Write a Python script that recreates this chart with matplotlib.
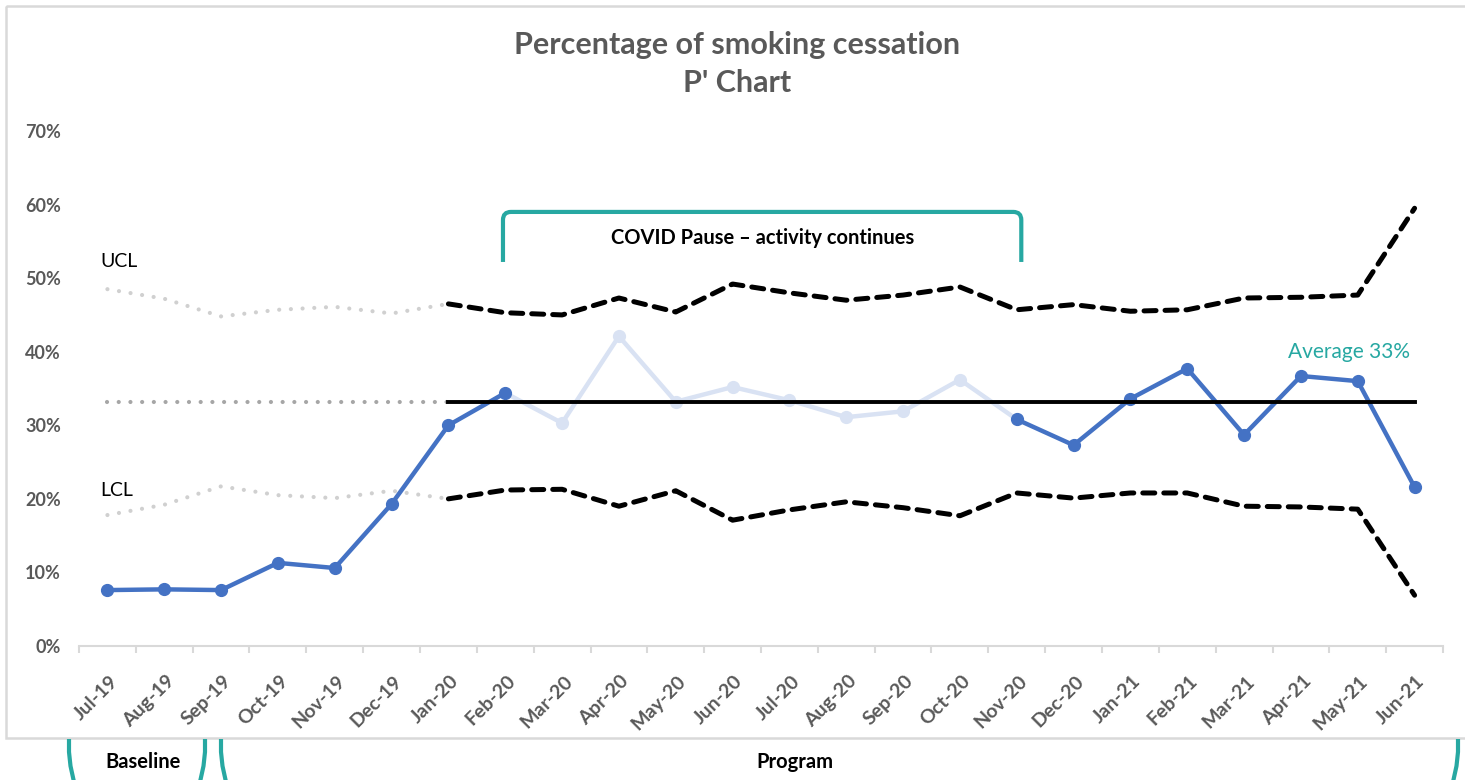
import numpy as np
import matplotlib.pyplot as plt
import matplotlib.transforms as mtransforms
from matplotlib.path import Path
from matplotlib.patches import PathPatch, Rectangle
from matplotlib.lines import Line2D

plt.rcParams['font.family'] = ['Lato', 'DejaVu Sans']

# monthly data (percent)
months = ['Jul-19', 'Aug-19', 'Sep-19', 'Oct-19', 'Nov-19', 'Dec-19',
          'Jan-20', 'Feb-20', 'Mar-20', 'Apr-20', 'May-20', 'Jun-20',
          'Jul-20', 'Aug-20', 'Sep-20', 'Oct-20', 'Nov-20', 'Dec-20',
          'Jan-21', 'Feb-21', 'Mar-21', 'Apr-21', 'May-21', 'Jun-21']
cessation = [7.6, 7.7, 7.6, 11.3, 10.6, 19.3, 30.0, 34.4, 30.3, 42.1, 33.2, 35.2,
             33.4, 31.1, 31.9, 36.2, 30.8, 27.3, 33.6, 37.7, 28.7, 36.7, 36.0, 21.6]
ucl = [48.5, 47.2, 44.8, 45.7, 46.1, 45.2, 46.5, 45.3, 45.0, 47.3, 45.4, 49.2,
       48.0, 47.0, 47.7, 48.8, 45.7, 46.4, 45.5, 45.7, 47.3, 47.4, 47.7, 59.5]
lcl = [17.8, 19.2, 21.7, 20.5, 20.1, 21.1, 20.0, 21.2, 21.3, 19.0, 21.1, 17.1,
       18.5, 19.6, 18.8, 17.7, 20.8, 20.1, 20.8, 20.8, 19.0, 18.9, 18.6, 6.9]
average = 33.2
yticks = [0, 10, 20, 30, 40, 50, 60, 70]

base_end = 6                   # Jan-20, last baseline month
pause_start, pause_end = 7, 16  # Feb-20 .. Nov-20

BLUE = '#4472C4'
FADED = '#D9E2F3'
TEAL = '#27A8A2'
GREY_TXT = '#595959'

W, H = 1465, 780
fig = plt.figure(figsize=(W / 100, H / 100), dpi=100)
ax = fig.add_axes([79 / W, 134 / H, 1364 / W, 515 / H])
px = mtransforms.Affine2D().scale(1 / W, -1 / H).translate(0, 1) + fig.transFigure

x = np.arange(len(months))
dots = dict(lw=3.0, dashes=(0.01, 2.8), dash_capstyle='round')
dash = dict(lw=3.6, color='black', dashes=(2.4, 1.8), dash_capstyle='round')

# baseline limits and centre line (dotted grey)
ax.plot(x[:base_end + 1], ucl[:base_end + 1], color='#D0D0D0', **dots)
ax.plot(x[:base_end + 1], lcl[:base_end + 1], color='#D0D0D0', **dots)
ax.plot([x[0], x[base_end]], [average, average], color='#A6A6A6', **dots)

# program limits (dashed black) and average
ax.plot(x[base_end:], ucl[base_end:], **dash)
ax.plot(x[base_end:], lcl[base_end:], **dash)
ax.plot([x[base_end], x[-1]], [average, average], color='black', lw=2.8, zorder=5)

# covid pause shown faded
ax.plot(x[pause_start:pause_end + 1], cessation[pause_start:pause_end + 1],
        color=FADED, lw=3.2, zorder=3)
ax.plot(x[pause_start + 1:pause_end], cessation[pause_start + 1:pause_end],
        'o', color=FADED, ms=8.5, zorder=3)
ax.plot(x[:pause_start + 1], cessation[:pause_start + 1], color=BLUE, lw=3.2,
        marker='o', ms=8.5, zorder=4)
ax.plot(x[pause_end:], cessation[pause_end:], color=BLUE, lw=3.2,
        marker='o', ms=8.5, zorder=4)

ax.set_xlim(-0.5, len(months) - 0.5)
ax.set_ylim(0, 70)
ax.set_yticks(yticks, [f'{v}%' for v in yticks])
ax.set_xticks(x, months)
ax.set_xticks(np.arange(-0.5, len(months), 1), minor=True)
ax.tick_params(axis='y', length=0, pad=13, labelsize=13, labelcolor=GREY_TXT)
ax.tick_params(axis='x', which='major', length=0, pad=19, labelsize=14,
               labelcolor=GREY_TXT)
ax.tick_params(axis='x', which='minor', length=5, width=1.5, color='#D9D9D9')
for lab in ax.get_yticklabels():
    lab.set_fontweight('bold')
shift = mtransforms.ScaledTranslation(1 / 72, 0, fig.dpi_scale_trans)
for lab in ax.get_xticklabels():
    lab.set_fontweight('bold')
    lab.set_rotation(45)
    lab.set_ha('right')
    lab.set_va('top')
    lab.set_rotation_mode('anchor')
    lab.set_transform(lab.get_transform() + shift)
for side in ['top', 'left', 'right']:
    ax.spines[side].set_visible(False)
ax.spines['bottom'].set_color('#D9D9D9')
ax.spines['bottom'].set_linewidth(1.5)

ax.text(-0.13, 52.2, 'UCL', fontsize=14, va='center', ha='left')
ax.text(-0.13, 21.2, 'LCL', fontsize=14, va='center', ha='left')
ax.text(21.85, average + 6.8, 'Average 33%', fontsize=15, color=TEAL,
        ha='center', va='center')


def bracket(x0, x1, edge, tip, rx, ry):
    d = 1 if tip > edge else -1
    verts = [(x0, tip), (x0, edge + d * ry), (x0, edge), (x0 + rx, edge),
             (x1 - rx, edge), (x1, edge), (x1, edge + d * ry), (x1, tip)]
    codes = [Path.MOVETO, Path.LINETO, Path.CURVE3, Path.CURVE3,
             Path.LINETO, Path.CURVE3, Path.CURVE3, Path.LINETO]
    return Path(verts, codes)


# covid pause bracket over Feb-20 .. Nov-20
ax.add_patch(PathPatch(bracket(pause_start - 0.04, pause_end + 0.08, 59.0, 52.2, 0.14, 1.1),
                       fill=False, ec=TEAL, lw=3, clip_on=False, capstyle='butt'))
ax.text((pause_start + pause_end) / 2 + 0.02, 55.5, 'COVID Pause \u2013 activity continues',
        fontsize=14.5, fontweight='bold', ha='center', va='center')

# chart frame
fig.add_artist(Rectangle((6, 6), 1480, 732, transform=px, fill=False,
                         ec='#D9D9D9', lw=1.8))

fig.text(0.503, 1 - 45 / H, 'Percentage of smoking cessation', fontsize=22,
         fontweight='bold', color=GREY_TXT, ha='center', va='center')
fig.text(0.503, 1 - 83 / H, "P' Chart", fontsize=22, fontweight='bold',
         color=GREY_TXT, ha='center', va='center')

# period brackets under the chart (only the upper ends of the legs show)
for x0, x1, name, cx in [(69, 205, 'Baseline', 143), (221, 1458, 'Program', 795)]:
    for xs, bend in [(x0, 1), (x1, -1)]:
        fig.add_artist(Line2D([xs, xs, xs + bend * 1.5, xs + bend * 5],
                              [739, 752, 766, 782], transform=px,
                              color=TEAL, lw=3, solid_capstyle='butt'))
    fig.text(cx / W, 1 - 762 / H, name, fontsize=14.5, fontweight='bold',
             ha='center', va='center')

fig.savefig('out.png', dpi=100)
